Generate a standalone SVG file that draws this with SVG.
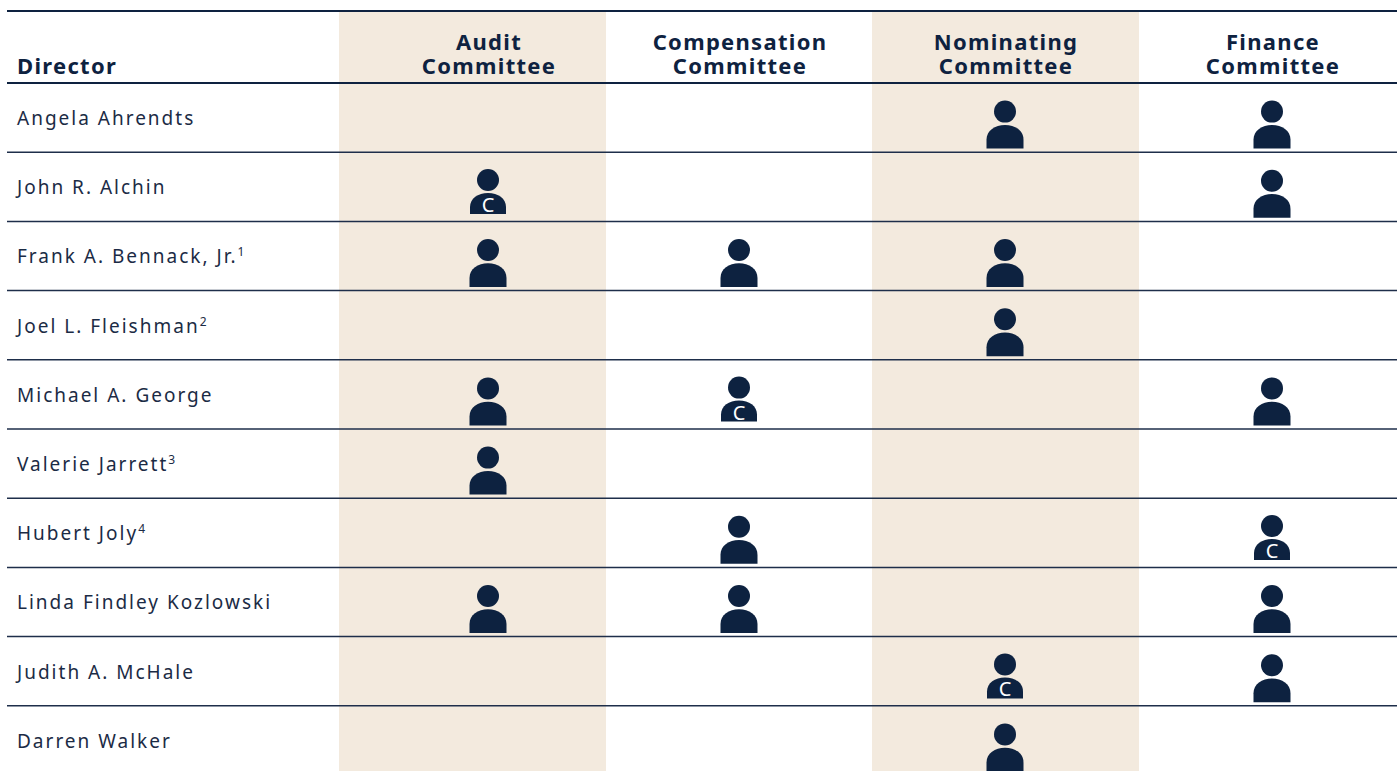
<svg xmlns="http://www.w3.org/2000/svg" xmlns:xlink="http://www.w3.org/1999/xlink" width="1397" height="771" viewBox="0 0 1397 771">
<style>
.bg{fill:#ffffff}
.shade{fill:#f3eade}
.hdr{font-family:"Noto Sans","Open Sans",sans-serif;font-weight:700;font-size:22px;letter-spacing:1.3px;fill:#0e2240}
.name{font-family:"Noto Sans","Open Sans",sans-serif;font-size:19px;letter-spacing:2px;fill:#1b2b45}
.sup{font-size:12px;letter-spacing:0}
.rule{stroke:#1e2e4a;stroke-width:1.5}
.rule2{stroke:#0e2240;stroke-width:2}
.ic{fill:#0d2240}
.ct{font-family:"Noto Sans","Open Sans",sans-serif;font-size:20px;fill:#ffffff;text-anchor:middle}
</style>
<defs>
<g id="person">
<circle class="ic" cx="0" cy="0" r="11"/>
<path class="ic" d="M-18.5,37 V28 C-18.5,19 -10,13.3 0,13.3 C10,13.3 18.5,19 18.5,28 V37 Z"/>
</g>
<g id="chair">
<circle class="ic" cx="0" cy="0" r="11"/>
<path class="ic" d="M-18,34 V27 C-18,18.5 -10,13 0,13 C10,13 18,18.5 18,27 V34 Z"/>
<text class="ct" x="0" y="32">C</text>
</g>
</defs>
<rect class="bg" x="0" y="0" width="1397" height="771"/>
<g id="columns">
<rect class="shade" x="339" y="11" width="267" height="760"/>
<rect class="shade" x="872" y="11" width="267" height="760"/>
</g>
<g id="header">
<text class="hdr" x="17" y="74">Director</text>
<text class="hdr" x="489" y="50" text-anchor="middle">Audit</text>
<text class="hdr" x="489" y="74" text-anchor="middle">Committee</text>
<text class="hdr" x="740" y="50" text-anchor="middle">Compensation</text>
<text class="hdr" x="740" y="74" text-anchor="middle">Committee</text>
<text class="hdr" x="1006" y="50" text-anchor="middle">Nominating</text>
<text class="hdr" x="1006" y="74" text-anchor="middle">Committee</text>
<text class="hdr" x="1273" y="50" text-anchor="middle">Finance</text>
<text class="hdr" x="1273" y="74" text-anchor="middle">Committee</text>
</g>
<g id="rules">
<line class="rule2" x1="7" y1="11" x2="1397" y2="11"/>
<line class="rule2" x1="7" y1="83" x2="1397" y2="83"/>
<line class="rule" x1="7" y1="152.2" x2="1397" y2="152.2"/>
<line class="rule" x1="7" y1="221.4" x2="1397" y2="221.4"/>
<line class="rule" x1="7" y1="290.6" x2="1397" y2="290.6"/>
<line class="rule" x1="7" y1="359.8" x2="1397" y2="359.8"/>
<line class="rule" x1="7" y1="429" x2="1397" y2="429"/>
<line class="rule" x1="7" y1="498.2" x2="1397" y2="498.2"/>
<line class="rule" x1="7" y1="567.4" x2="1397" y2="567.4"/>
<line class="rule" x1="7" y1="636.6" x2="1397" y2="636.6"/>
<line class="rule" x1="7" y1="705.8" x2="1397" y2="705.8"/>
</g>
<g id="row-ahrendts">
<text class="name" x="17" y="125">Angela Ahrendts</text>
<use xlink:href="#person" x="1005" y="111.6"/>
<use xlink:href="#person" x="1272" y="111.6"/>
</g>
<g id="row-alchin">
<text class="name" x="17" y="194.2">John R. Alchin</text>
<use xlink:href="#chair" x="488" y="180"/>
<use xlink:href="#person" x="1272" y="180.8"/>
</g>
<g id="row-bennack">
<text class="name" x="17" y="263.4">Frank A. Bennack, Jr.<tspan class="sup" dy="-7">1</tspan></text>
<use xlink:href="#person" x="488" y="250"/>
<use xlink:href="#person" x="739" y="250"/>
<use xlink:href="#person" x="1005" y="250"/>
</g>
<g id="row-fleishman">
<text class="name" x="17" y="332.6">Joel L. Fleishman<tspan class="sup" dy="-7">2</tspan></text>
<use xlink:href="#person" x="1005" y="319.2"/>
</g>
<g id="row-george">
<text class="name" x="17" y="401.8">Michael A. George</text>
<use xlink:href="#person" x="488" y="388.4"/>
<use xlink:href="#chair" x="739" y="387.6"/>
<use xlink:href="#person" x="1272" y="388.4"/>
</g>
<g id="row-jarrett">
<text class="name" x="17" y="471">Valerie Jarrett<tspan class="sup" dy="-7">3</tspan></text>
<use xlink:href="#person" x="488" y="457.6"/>
</g>
<g id="row-joly">
<text class="name" x="17" y="540.2">Hubert Joly<tspan class="sup" dy="-7">4</tspan></text>
<use xlink:href="#person" x="739" y="526.8"/>
<use xlink:href="#chair" x="1272" y="526"/>
</g>
<g id="row-kozlowski">
<text class="name" x="17" y="609.4">Linda Findley Kozlowski</text>
<use xlink:href="#person" x="488" y="596"/>
<use xlink:href="#person" x="739" y="596"/>
<use xlink:href="#person" x="1272" y="596"/>
</g>
<g id="row-mchale">
<text class="name" x="17" y="678.6">Judith A. McHale</text>
<use xlink:href="#chair" x="1005" y="664.4"/>
<use xlink:href="#person" x="1272" y="665.2"/>
</g>
<g id="row-walker">
<text class="name" x="17" y="747.8">Darren Walker</text>
<use xlink:href="#person" x="1005" y="734.4"/>
</g>
</svg>
